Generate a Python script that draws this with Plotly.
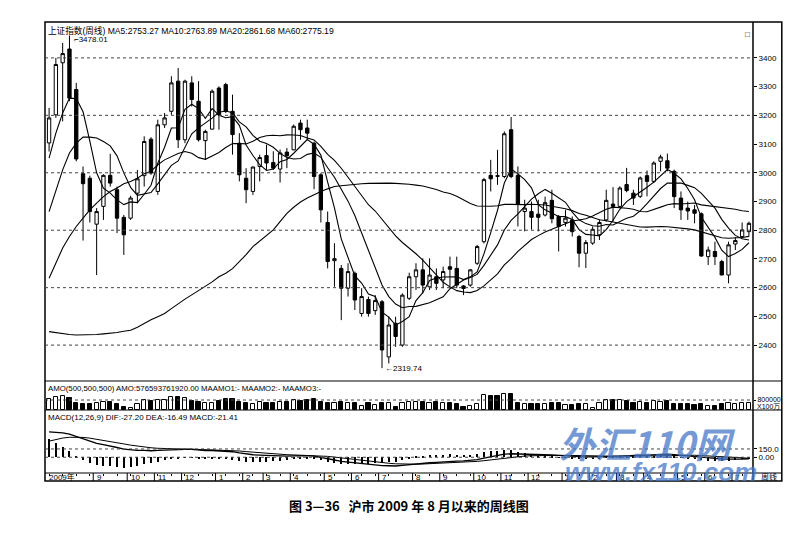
import plotly.graph_objects as go
from plotly.subplots import make_subplots

# Weekly bars of the Shanghai Composite, Jul 2009 - Jul 2011
opens = [3104, 3202, 3383, 3431, 3290, 2997, 2981, 2821, 2883, 2991,
         2941, 2845, 2842, 2929, 2990, 3117, 2935, 3167, 3214, 3319,
         3115, 3313, 3249, 3112, 3152, 3295, 3307, 3214, 3103, 2981,
         2935, 3022, 3060, 3036, 3013, 3072, 3080, 3173, 3156, 3103,
         2993, 2827, 2694, 2667, 2598, 2650, 2510, 2559, 2520, 2551,
         2359, 2476, 2400, 2563, 2638, 2662, 2603, 2638, 2627, 2673,
         2667, 2606, 2609, 2685, 2760, 2991, 2990, 2987, 3150, 2991,
         2865, 2865, 2856, 2853, 2904, 2848, 2827, 2836, 2778, 2720,
         2755, 2784, 2836, 2891, 2883, 2959, 2929, 2918, 2990, 2970,
         3040, 3042, 3005, 2912, 2877, 2871, 2857, 2708, 2726, 2691,
         2644, 2752, 2778, 2795]
highs = [3226, 3400, 3452, 3478.01, 3313, 3022, 2990, 2877, 2995, 3066,
         2952, 2853, 2920, 3010, 3127, 3124, 3185, 3208, 3336, 3365,
         3324, 3336, 3319, 3150, 3290, 3301, 3313, 3272, 3138, 3016,
         3022, 3063, 3098, 3075, 3081, 3086, 3168, 3185, 3185, 3109,
         2999, 2865, 2755, 2679, 2685, 2656, 2598, 2569, 2574, 2557,
         2499, 2499, 2580, 2652, 2685, 2702, 2702, 2667, 2673, 2708,
         2708, 2609, 2665, 2749, 2982, 3045, 3080, 3144, 3194, 3022,
         2906, 2900, 2906, 2917, 2941, 2853, 2871, 2848, 2784, 2766,
         2813, 2836, 2941, 2950, 2953, 3017, 2941, 2987, 3008, 3040,
         3063, 3067, 3011, 2935, 2900, 2888, 2862, 2743, 2760, 2697,
         2760, 2776, 2827, 2830]
lows = [3074, 3191, 3179, 3249, 3040, 2764, 2827, 2644, 2836, 2952,
        2790, 2714, 2836, 2894, 2952, 2993, 2923, 3156, 3202, 3086,
        3103, 3231, 3109, 3045, 3150, 3150, 3208, 3063, 2970, 2894,
        2923, 2970, 3010, 3010, 2966, 3016, 3078, 3115, 3115, 2943,
        2827, 2667, 2603, 2487, 2569, 2522, 2499, 2499, 2505, 2319.74,
        2336, 2394, 2394, 2557, 2592, 2580, 2592, 2592, 2598, 2603,
        2598, 2574, 2603, 2679, 2754, 2935, 2958, 2981, 2981, 2813,
        2796, 2802, 2796, 2848, 2824, 2726, 2813, 2778, 2671, 2668,
        2749, 2766, 2830, 2830, 2877, 2932, 2888, 2912, 2918, 2964,
        3005, 3005, 2877, 2836, 2836, 2824, 2708, 2679, 2679, 2644,
        2615, 2731, 2772, 2778]
closes = [3191, 3377, 3415, 3260, 3048, 2962, 2865, 2865, 2991, 2964,
          2842, 2784, 2912, 2979, 3109, 2999, 3167, 3191, 3313, 3115,
          3319, 3255, 3115, 3144, 3284, 3202, 3214, 3133, 2993, 2941,
          3020, 3053, 3034, 3016, 3069, 3059, 3162, 3150, 3138, 2987,
          2871, 2691, 2701, 2598, 2656, 2557, 2569, 2510, 2555, 2383,
          2470, 2430, 2574, 2638, 2662, 2609, 2644, 2615, 2656, 2664,
          2609, 2597, 2662, 2743, 2976, 2979, 2988, 3136, 2987, 2892,
          2877, 2845, 2845, 2896, 2840, 2813, 2842, 2795, 2720, 2757,
          2803, 2827, 2904, 2883, 2947, 2938, 2912, 2982, 2970, 3034,
          3055, 3016, 2917, 2871, 2867, 2859, 2710, 2731, 2708, 2644,
          2749, 2764, 2801, 2824]
# turnover, x100万
amounts = [850000, 1040000, 1120000, 990000, 590000, 510000, 450000, 590000, 670000, 670000,
           450000, 240000, 130000, 450000, 770000, 720000, 770000, 770000, 1070000, 1070000,
           1000000, 750000, 670000, 590000, 590000, 750000, 850000, 850000, 670000, 590000,
           480000, 670000, 530000, 590000, 670000, 670000, 800000, 750000, 800000, 850000,
           670000, 590000, 590000, 640000, 530000, 590000, 320000, 530000, 400000, 530000,
           530000, 210000, 590000, 670000, 670000, 670000, 590000, 670000, 530000, 590000,
           450000, 240000, 320000, 450000, 1200000, 1120000, 1120000, 1300000, 1250000, 590000,
           450000, 510000, 450000, 450000, 590000, 590000, 370000, 370000, 450000, 450000,
           190000, 590000, 770000, 770000, 770000, 720000, 590000, 670000, 590000, 720000,
           640000, 720000, 450000, 450000, 450000, 370000, 450000, 320000, 320000, 450000,
           590000, 450000, 590000, 576594]

# moving-average values before a full window exists
ma5_head = [3051, 3138, 3208, 3260]
ma10_head = [2865, 2941, 3010, 3069, 3103, 3124, 3124, 3121, 3109]
ma20_head = [2633, 2685, 2738, 2778, 2813, 2842, 2871, 2894, 2917, 2935,
             2947, 2962, 2970, 2981, 2997, 3005, 3028, 3045, 3057]
ma60_head = [2447, 2443, 2440, 2437, 2435, 2435, 2436, 2437, 2439, 2441,
             2444, 2448, 2452, 2462, 2476, 2488, 2499, 2510, 2527, 2545,
             2560, 2575, 2590, 2603, 2620, 2638, 2650, 2666, 2690, 2715,
             2743, 2762, 2782, 2801, 2830, 2859, 2880, 2898, 2912, 2925,
             2935, 2944, 2952, 2955, 2958, 2960, 2962, 2963, 2964, 2964,
             2964, 2963, 2962, 2960, 2957, 2954, 2948, 2942, 2933]
# MACD state carried in from before the first bar
ema12_start = 3020
ema26_start = 2540
dea_start = 250

month_starts = [0, 7, 12, 16, 20, 25, 29, 32, 36, 41, 45, 49, 54, 58, 63, 67,
                71, 76, 80, 84, 88, 93, 97, 101]
month_labels = ["2009年", "9", "10", "11", "12", "1", "2", "3", "4", "5", "6", "7",
                "8", "9", "10", "11", "12", "1", "2", "3", "4", "5", "6", "7"]
price_ticks = [2400, 2500, 2600, 2700, 2800, 2900, 3000, 3100, 3200, 3300, 3400]
price_grid = [2400, 2600, 2800, 3000, 3200, 3400]

n = len(closes)
xs = list(range(n))


def moving_avg(head, w):
    out = []
    for i in range(n):
        if i >= w - 1:
            out.append(sum(closes[i - w + 1:i + 1]) / w)
        else:
            out.append(head[i])
    return out


ma5 = moving_avg(ma5_head, 5)
ma10 = moving_avg(ma10_head, 10)
ma20 = moving_avg(ma20_head, 20)
ma60 = moving_avg(ma60_head, 60)

dif, dea, macd = [], [], []
e12, e26, d = ema12_start, ema26_start, dea_start
for c in closes:
    e12 = e12 + 2 / 13 * (c - e12)
    e26 = e26 + 2 / 27 * (c - e26)
    df = e12 - e26
    d = d + 0.2 * (df - d)
    dif.append(df)
    dea.append(d)
    macd.append(2 * (df - d))

up = [closes[i] >= opens[i] for i in range(n)]

FONT = "Liberation Sans, Noto Sans CJK SC, sans-serif"

fig = make_subplots(rows=3, cols=1, shared_xaxes=True, vertical_spacing=0)

# price panel
fig.add_trace(go.Candlestick(
    x=xs, open=opens, high=highs, low=lows, close=closes,
    increasing=dict(line=dict(color="black", width=1), fillcolor="white"),
    decreasing=dict(line=dict(color="black", width=1), fillcolor="black"),
    whiskerwidth=0, showlegend=False, hoverinfo="skip",
), row=1, col=1)
for ma in [ma5, ma10, ma20, ma60]:
    fig.add_trace(go.Scatter(x=xs, y=ma, mode="lines", line=dict(color="black", width=1.1),
                             showlegend=False, hoverinfo="skip"), row=1, col=1)

# turnover panel
fig.add_trace(go.Bar(
    x=[x for x in xs if up[x]], y=[amounts[x] for x in xs if up[x]], width=0.62,
    marker=dict(color="white", line=dict(color="black", width=1)), showlegend=False,
), row=2, col=1)
fig.add_trace(go.Bar(
    x=[x for x in xs if not up[x]], y=[amounts[x] for x in xs if not up[x]], width=0.62,
    marker=dict(color="black", line=dict(color="black", width=1)), showlegend=False,
), row=2, col=1)

# MACD panel
fig.add_trace(go.Bar(x=xs, y=macd, width=0.16, marker=dict(color="black", line_width=0),
                     showlegend=False), row=3, col=1)
fig.add_trace(go.Scatter(x=xs, y=dif, mode="lines", line=dict(color="black", width=1.3),
                         showlegend=False), row=3, col=1)
fig.add_trace(go.Scatter(x=xs, y=dea, mode="lines", line=dict(color="black", width=1),
                         showlegend=False), row=3, col=1)

# page pixel -> paper fraction (plot area spans page y 22..481, x 45..758)
H = 459.0
def py(px):
    return (481 - px) / H

def pxx(px):
    return (px - 45) / 713.0

xr = [-0.6, n - 0.4]
fig.update_xaxes(range=xr, showgrid=False, showticklabels=False, zeroline=False,
                 showline=False, rangeslider_visible=False)
fig.update_xaxes(ticks="outside", ticklen=2, tickcolor="black", tickvals=xs[::2], row=3, col=1)

axis_font = dict(family=FONT, size=8, color="black")
small_font = dict(family=FONT, size=7, color="black")
fig.update_layout(
    yaxis=dict(domain=[py(381), 1], range=[2275, 3525], side="right", showgrid=False,
               zeroline=False, tickvals=price_ticks, ticks="outside", ticklen=3,
               tickcolor="black", tickfont=axis_font),
    yaxis2=dict(domain=[py(410), py(381)], range=[0, 2320000], side="right", showgrid=False,
                zeroline=False, tickvals=[800000], ticktext=["800000"], ticks="outside",
                ticklen=2, tickcolor="black", tickfont=small_font),
    yaxis3=dict(domain=[py(473), py(410)], range=[-285, 855], side="right", showgrid=False,
                zeroline=False, tickvals=[0, 150], ticktext=["0.00", "150.0"], ticks="outside",
                ticklen=3, tickcolor="black", tickfont=axis_font),
    bargap=0,
    # the page body adds an 8px offset, so the figure starts at page (8, 8)
    width=785, height=523,
    margin=dict(l=37, r=35, t=14, b=50),
    paper_bgcolor="white", plot_bgcolor="white",
    font=dict(family=FONT, size=8, color="black"),
    showlegend=False,
)

shapes = []
right_edge = pxx(787)
# frame and panel separators
shapes.append(dict(type="rect", xref="paper", yref="paper", x0=0, x1=right_edge, y0=0, y1=1,
                   line=dict(color="black", width=1.5)))
shapes.append(dict(type="line", xref="paper", yref="paper", x0=1, x1=1, y0=0, y1=1,
                   line=dict(color="black", width=1.5)))
for ypx in [381, 410, 473]:
    shapes.append(dict(type="line", xref="paper", yref="paper", x0=0, x1=right_edge,
                       y0=py(ypx), y1=py(ypx), line=dict(color="black", width=1.2)))
# dotted grid lines
for lv in price_grid:
    shapes.append(dict(type="line", xref="x domain", yref="y", x0=0, x1=1, y0=lv, y1=lv,
                       line=dict(color="#444", width=1, dash="dot")))
shapes.append(dict(type="line", xref="x2 domain", yref="y2", x0=0, x1=1, y0=800000, y1=800000,
                   line=dict(color="#444", width=1, dash="dot")))
for lv in [0, 150]:
    shapes.append(dict(type="line", xref="x3 domain", yref="y3", x0=0, x1=1, y0=lv, y1=lv,
                       line=dict(color="#444", width=1, dash="dot")))
# month separators in the date strip
for m in month_starts[1:]:
    shapes.append(dict(type="line", xref="x3", yref="paper", x0=m - 0.5, x1=m - 0.5,
                       y0=0, y1=py(473), line=dict(color="black", width=1)))

annotations = []
for m, lab in zip(month_starts, month_labels):
    annotations.append(dict(x=m - 0.3, y=py(477), xref="x3", yref="paper", text=lab,
                            showarrow=False, xanchor="left", yanchor="middle",
                            font=dict(family=FONT, size=8)))
annotations.append(dict(x=pxx(764), y=py(477), xref="paper", yref="paper", text="周线",
                        showarrow=False, xanchor="left", yanchor="middle",
                        font=dict(family=FONT, size=8)))
annotations.append(dict(x=pxx(760), y=py(407), xref="paper", yref="paper", text="X100万",
                        showarrow=False, xanchor="left", yanchor="middle", font=small_font))
annotations.append(dict(x=pxx(46), y=py(23), xref="paper", yref="paper",
                        text="上证指数(周线) MA5:2753.27 MA10:2763.89 MA20:2861.68 MA60:2775.19",
                        showarrow=False, xanchor="left", yanchor="top",
                        font=dict(family=FONT, size=8.6)))
annotations.append(dict(x=pxx(46), y=py(382), xref="paper", yref="paper",
                        text="AMO(500,500,500) AMO:576593761920.00 MAAMO1:- MAAMO2:- MAAMO3:-",
                        showarrow=False, xanchor="left", yanchor="top",
                        font=dict(family=FONT, size=7.8)))
annotations.append(dict(x=pxx(46), y=py(411), xref="paper", yref="paper",
                        text="MACD(12,26,9) DIF:-27.20 DEA:-16.49 MACD:-21.41",
                        showarrow=False, xanchor="left", yanchor="top",
                        font=dict(family=FONT, size=8)))
annotations.append(dict(x=pxx(752), y=py(28), xref="paper", yref="paper", text="□",
                        showarrow=False, xanchor="center", font=dict(family=FONT, size=8)))
# extreme labels
hi_i = highs.index(max(highs))
lo_i = lows.index(min(lows))
annotations.append(dict(x=hi_i + 0.3, y=max(highs), xref="x", yref="y",
                        text="⌐%.2f" % max(highs), showarrow=False, xanchor="left",
                        yanchor="middle", yshift=-4, font=dict(family=FONT, size=8)))
annotations.append(dict(x=lo_i + 0.2, y=min(lows), xref="x", yref="y",
                        text="←%.2f" % min(lows), showarrow=False, xanchor="left",
                        yanchor="middle", font=dict(family=FONT, size=8)))
# watermark
annotations.append(dict(x=pxx(652), y=py(442), xref="paper", yref="paper",
                        text="<b><i>外汇110网</i></b>", showarrow=False, xanchor="center",
                        yanchor="middle",
                        font=dict(family="Noto Sans CJK SC", size=36,
                                  color="rgba(70,120,200,0.75)")))
annotations.append(dict(x=pxx(665), y=py(472), xref="paper", yref="paper",
                        text="<b><i>www.fx110.com</i></b>", showarrow=False, xanchor="center",
                        yanchor="middle",
                        font=dict(family="Liberation Sans", size=26,
                                  color="rgba(70,120,200,0.75)")))
# caption
annotations.append(dict(x=pxx(412), y=py(505), xref="paper", yref="paper",
                        text="<b>图 3—36   沪市 2009 年 8 月以来的周线图</b>", showarrow=False,
                        xanchor="center", yanchor="middle",
                        font=dict(family="Noto Sans CJK SC", size=13, color="black")))

fig.update_layout(shapes=shapes, annotations=annotations)

fig.write_html("out.html")
